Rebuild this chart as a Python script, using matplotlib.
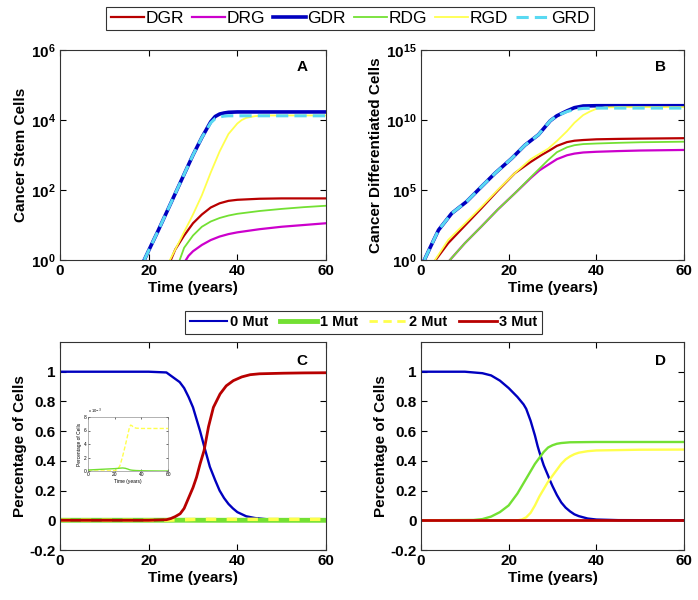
import numpy as np
import matplotlib
matplotlib.use("Agg")
import matplotlib.pyplot as plt
from matplotlib.lines import Line2D

plt.rcParams['font.family'] = ['Liberation Sans', 'DejaVu Sans']

# ---------------- Panel A: cancer stem cells (log10 values) ----------------
tA_GDR = [19, 20, 22, 24, 26, 28, 30, 32, 34, 35, 36, 37, 38, 40, 45, 50, 55, 60]
lA_GDR = [0, 0.27, 0.8, 1.35, 1.9, 2.45, 3.0, 3.5, 3.95, 4.1, 4.17, 4.2, 4.22, 4.23, 4.23, 4.23, 4.23, 4.23]
tA_GRD = tA_GDR
lA_GRD = [0, 0.27, 0.8, 1.35, 1.9, 2.45, 3.0, 3.5, 3.92, 4.04, 4.09, 4.11, 4.12, 4.12, 4.12, 4.12, 4.12, 4.12]
tA_RGD = [24.8, 26, 28, 30, 32, 34, 36, 38, 40, 41, 42, 44, 46, 50, 60]
lA_RGD = [0, 0.3, 0.8, 1.3, 1.85, 2.5, 3.1, 3.6, 3.9, 4.0, 4.06, 4.11, 4.13, 4.13, 4.13]
tA_DGR = [25, 26, 28, 30, 32, 34, 36, 38, 40, 45, 50, 60]
lA_DGR = [0, 0.3, 0.7, 1.05, 1.3, 1.5, 1.62, 1.69, 1.72, 1.75, 1.76, 1.76]
tA_RDG = [27, 28, 30, 32, 34, 36, 38, 40, 45, 50, 55, 60]
lA_RDG = [0, 0.35, 0.7, 0.95, 1.1, 1.2, 1.27, 1.32, 1.4, 1.46, 1.51, 1.55]
tA_DRG = [28.4, 29, 30, 32, 34, 36, 38, 40, 45, 50, 55, 60]
lA_DRG = [0, 0.12, 0.25, 0.43, 0.57, 0.67, 0.74, 0.79, 0.88, 0.95, 1.0, 1.05]

# ---------------- Panel B: cancer differentiated cells (log10 values) ----------------
tB_GDR = [0.76, 2, 4, 7, 10.4, 13.8, 16.9, 20.7, 23.7, 26.8, 29.5, 31, 33.3, 35, 37, 40, 50, 60]
lB_GDR = [0, 0.83, 2.14, 3.33, 4.17, 5.24, 6.2, 7.26, 8.2, 8.95, 9.95, 10.3, 10.65, 10.88, 11.0, 11.02, 11.02, 11.02]
tB_GRD = tB_GDR
lB_GRD = [0, 0.83, 2.14, 3.33, 4.17, 5.24, 6.2, 7.26, 8.2, 8.95, 9.95, 10.3, 10.6, 10.75, 10.83, 10.85, 10.85, 10.85]
tB_RGD = [3.2, 6.2, 10, 13.8, 17.5, 21.4, 25, 29, 31, 33.3, 35, 37, 38.5, 40, 42, 45, 50, 60]
lB_RGD = [0, 1.43, 2.6, 3.8, 5.0, 6.2, 7.2, 7.95, 8.5, 9.2, 9.8, 10.35, 10.6, 10.8, 10.9, 10.92, 10.92, 10.92]
tB_DGR = [3.35, 6.2, 10, 13.8, 17.5, 21.4, 25, 27.5, 29.5, 31, 33.3, 35, 37, 40, 45, 50, 60]
lB_DGR = [0, 1.2, 2.45, 3.7, 4.95, 6.2, 7.0, 7.5, 7.86, 8.15, 8.42, 8.52, 8.57, 8.62, 8.65, 8.67, 8.7]
tB_RDG = [6.6, 10, 13.8, 17.5, 21.4, 25, 29, 31, 33.3, 35, 37, 40, 45, 50, 60]
lB_RDG = [0, 1.2, 2.4, 3.6, 4.76, 5.9, 7.14, 7.7, 8.05, 8.2, 8.28, 8.32, 8.37, 8.41, 8.45]
tB_DRG = [6.6, 10, 13.8, 17.5, 21.4, 25, 27, 29.5, 31, 33.3, 35, 37, 40, 45, 50, 60]
lB_DRG = [0, 1.2, 2.4, 3.6, 4.76, 5.85, 6.4, 6.9, 7.2, 7.48, 7.6, 7.68, 7.73, 7.78, 7.82, 7.86]

# ---------------- Panel C: fraction of cells ----------------
tC_0 = [0, 10, 20, 24, 27, 28, 29, 30, 31, 31.6, 32.5, 33.8, 35, 36, 37, 38, 39, 40, 42, 44, 47, 50, 60]
yC_0 = [1, 1, 1, 0.995, 0.93, 0.89, 0.83, 0.76, 0.66, 0.6, 0.5, 0.36, 0.27, 0.2, 0.15, 0.11, 0.08, 0.055, 0.027, 0.015, 0.006, 0.002, 0]
tC_3 = [0, 20, 24, 25, 26, 27.1, 28, 29, 30, 30.8, 31.6, 32.5, 33.5, 34.6, 36.1, 37.5, 39.1, 41, 42.9, 45, 50.4, 55, 60]
yC_3 = [0, 0, 0.004, 0.012, 0.025, 0.044, 0.08, 0.15, 0.22, 0.29, 0.38, 0.47, 0.63, 0.76, 0.85, 0.905, 0.94, 0.965, 0.98, 0.986, 0.99, 0.992, 0.993]
# inset values (units of 1e-3)
tIn = [0, 5, 10, 15, 20, 22, 24, 26, 28, 30, 31, 32, 33, 34, 36, 40, 45, 50, 55, 60]
yIn_2 = [0, 0, 0, 0.02, 0.05, 0.2, 0.8, 2.2, 3.8, 5.5, 6.4, 6.8, 6.7, 6.5, 6.35, 6.3, 6.3, 6.3, 6.3, 6.3]
yIn_1 = [0.15, 0.2, 0.25, 0.3, 0.35, 0.38, 0.42, 0.45, 0.4, 0.28, 0.2, 0.15, 0.12, 0.1, 0.07, 0.04, 0.02, 0.01, 0.0, 0.0]

# ---------------- Panel D: fraction of cells ----------------
tD_0 = [0, 10, 14, 16, 18, 20, 22, 23.4, 24, 25, 26, 26.6, 27, 28, 29, 29.4, 30, 31, 32, 33, 34, 35, 36, 38, 40, 45, 60]
yD_0 = [1, 1, 0.99, 0.975, 0.94, 0.89, 0.83, 0.78, 0.75, 0.67, 0.57, 0.5, 0.46, 0.37, 0.3, 0.27, 0.23, 0.17, 0.12, 0.085, 0.06, 0.04, 0.028, 0.012, 0.005, 0.001, 0]
tD_1 = [0, 12, 14, 16, 18, 20, 21, 22, 23, 24, 25, 26, 27, 28, 29, 30, 31, 32, 34, 40, 60]
yD_1 = [0, 0.002, 0.008, 0.025, 0.055, 0.1, 0.14, 0.18, 0.23, 0.28, 0.33, 0.38, 0.42, 0.46, 0.49, 0.505, 0.515, 0.52, 0.525, 0.527, 0.527]
tD_2 = [0, 22, 23, 24, 25, 26, 27, 28, 29, 30, 31, 32, 33, 34, 35, 36, 38, 40, 50, 60]
yD_2 = [0, 0, 0.005, 0.02, 0.05, 0.1, 0.16, 0.21, 0.26, 0.3, 0.34, 0.38, 0.41, 0.43, 0.445, 0.455, 0.465, 0.47, 0.475, 0.476]
tD_3 = [0, 60]
yD_3 = [0, 0]

# ---------------- styles ----------------
c_DGR = (0.72, 0.0, 0.0)
c_DRG = (0.8, 0.0, 0.8)
c_GDR = (0.0, 0.0, 0.75)
c_RDG = (0.45, 0.88, 0.2)
c_RGD = (1.0, 1.0, 0.3)
c_GRD = (0.35, 0.85, 0.95)

c_0 = (0.0, 0.0, 0.75)
c_1 = (0.45, 0.88, 0.2)
c_2 = (1.0, 1.0, 0.3)
c_3 = (0.72, 0.0, 0.0)

W, H = 698, 600
fig = plt.figure(figsize=(W / 100, H / 100), dpi=100)


def pos(l, t, r, b):
    return [l / W, 1 - b / H, (r - l) / W, (b - t) / H]


def style(ax):
    ax.tick_params(direction='in', top=True, right=True, length=4, width=0.8,
                   labelsize=11, pad=3)
    for lab in ax.get_xticklabels() + ax.get_yticklabels():
        lab.set_fontweight('bold')
    for s in ax.spines.values():
        s.set_color('#333333')
        s.set_linewidth(0.8)
    ax.set_xlabel('Time (years)', fontsize=11, fontweight='bold', labelpad=2)


p = lambda l: 10.0 ** np.asarray(l)

# Panel A
axA = fig.add_axes(pos(60, 50, 326, 260))
axA.set_yscale('log')
hDGR, = axA.plot(tA_DGR, p(lA_DGR), color=c_DGR, lw=1.6, label='DGR')
hDRG, = axA.plot(tA_DRG, p(lA_DRG), color=c_DRG, lw=1.6, label='DRG')
hGDR, = axA.plot(tA_GDR, p(lA_GDR), color=c_GDR, lw=2.6, label='GDR')
hRDG, = axA.plot(tA_RDG, p(lA_RDG), color=c_RDG, lw=1.3, label='RDG')
hRGD, = axA.plot(tA_RGD, p(lA_RGD), color=c_RGD, lw=1.3, label='RGD')
hGRD, = axA.plot(tA_GRD, p(lA_GRD), color=c_GRD, lw=2.2, ls=(0, (4, 2)), label='GRD')
axA.set_xlim(0, 60)
axA.set_ylim(1, 1e6)
axA.set_xticks([0, 20, 40, 60])
axA.set_yticks([1, 1e2, 1e4, 1e6])
axA.minorticks_off()
axA.set_ylabel('Cancer Stem Cells', fontsize=11, fontweight='bold', labelpad=2)
axA.text(0.91, 0.92, 'A', transform=axA.transAxes, fontsize=11, fontweight='bold',
         ha='center', va='center')
style(axA)

# Panel B
axB = fig.add_axes(pos(421, 50, 684, 260))
axB.set_yscale('log')
axB.plot(tB_DGR, p(lB_DGR), color=c_DGR, lw=1.6)
axB.plot(tB_DRG, p(lB_DRG), color=c_DRG, lw=1.6)
axB.plot(tB_GDR, p(lB_GDR), color=c_GDR, lw=2.6)
axB.plot(tB_RDG, p(lB_RDG), color=c_RDG, lw=1.3)
axB.plot(tB_RGD, p(lB_RGD), color=c_RGD, lw=1.3)
axB.plot(tB_GRD, p(lB_GRD), color=c_GRD, lw=2.2, ls=(0, (4, 2)))
axB.set_xlim(0, 60)
axB.set_ylim(1, 1e15)
axB.set_xticks([0, 20, 40, 60])
axB.set_yticks([1, 1e5, 1e10, 1e15])
axB.minorticks_off()
axB.set_ylabel('Cancer Differentiated Cells', fontsize=11, fontweight='bold', labelpad=2)
axB.text(0.91, 0.92, 'B', transform=axB.transAxes, fontsize=11, fontweight='bold',
         ha='center', va='center')
style(axB)

# Panel C
yC_1 = np.asarray(yIn_1) * 1e-3
yC_2 = np.asarray(yIn_2) * 1e-3
axC = fig.add_axes(pos(60, 342, 326, 550))
axC.plot(tC_0, yC_0, color=c_0, lw=1.7)
axC.plot(tIn, yC_1, color=c_1, lw=3.5)
axC.plot(tIn, yC_2, color=c_2, lw=2.5, ls=(0, (3, 3)))
axC.plot(tC_3, yC_3, color=c_3, lw=2.0)
axC.set_xlim(0, 60)
axC.set_ylim(-0.2, 1.2)
axC.set_xticks([0, 20, 40, 60])
axC.set_yticks([-0.2, 0, 0.2, 0.4, 0.6, 0.8, 1])
axC.set_yticklabels(['-0.2', '0', '0.2', '0.4', '0.6', '0.8', '1'])
axC.set_ylabel('Percentage of Cells', fontsize=11, fontweight='bold', labelpad=2)
axC.text(0.91, 0.91, 'C', transform=axC.transAxes, fontsize=11, fontweight='bold',
         ha='center', va='center')
style(axC)

# Inset
axI = fig.add_axes(pos(88, 417, 168, 471))
axI.plot(tIn, yIn_2, color=c_2, lw=1, ls=(0, (3, 1.5)))
axI.plot(tIn, yIn_1, color=c_1, lw=1)
axI.set_xlim(0, 60)
axI.set_ylim(0, 8)
axI.set_xticks([0, 20, 40, 60])
axI.set_yticks([0, 2, 4, 6, 8])
axI.tick_params(direction='in', top=True, right=True, length=1.5, width=0.4,
                labelsize=3.5, pad=1)
for s in axI.spines.values():
    s.set_color('#777777')
    s.set_linewidth(0.4)
axI.set_xlabel('Time (years)', fontsize=3.5, labelpad=1)
axI.set_ylabel('Percentage of Cells', fontsize=3.5, labelpad=1)
axI.text(0.0, 1.01, r'x 10$^{-3}$', transform=axI.transAxes, fontsize=3, va='bottom')

# Panel D
axD = fig.add_axes(pos(421, 342, 684, 550))
axD.plot(tD_0, yD_0, color=c_0, lw=1.7)
axD.plot(tD_1, yD_1, color=c_1, lw=1.7)
axD.plot(tD_2, yD_2, color=c_2, lw=1.7)
axD.plot(tD_3, yD_3, color=c_3, lw=2.0)
axD.set_xlim(0, 60)
axD.set_ylim(-0.2, 1.2)
axD.set_xticks([0, 20, 40, 60])
axD.set_yticks([-0.2, 0, 0.2, 0.4, 0.6, 0.8, 1])
axD.set_yticklabels(['-0.2', '0', '0.2', '0.4', '0.6', '0.8', '1'])
axD.set_ylabel('Percentage of Cells', fontsize=11, fontweight='bold', labelpad=2)
axD.text(0.91, 0.91, 'D', transform=axD.transAxes, fontsize=11, fontweight='bold',
         ha='center', va='center')
style(axD)

# Legends
leg1 = fig.legend([hDGR, hDRG, hGDR, hRDG, hRGD, hGRD],
                  ['DGR', 'DRG', 'GDR', 'RDG', 'RGD', 'GRD'],
                  loc='center', bbox_to_anchor=(350 / W, 1 - 18.5 / H), ncol=6,
                  frameon=True, fancybox=False, edgecolor='black', fontsize=12.5,
                  handlelength=1.9, handletextpad=0.1, columnspacing=0.45,
                  borderpad=0.25, borderaxespad=0)
leg1.get_frame().set_linewidth(0.8)
lh = [Line2D([], [], color=c_0, lw=1.5), Line2D([], [], color=c_1, lw=3.5),
      Line2D([], [], color=c_2, lw=2, ls=(0, (3, 2))), Line2D([], [], color=c_3, lw=2)]
leg2 = fig.legend(lh, ['0 Mut', '1 Mut', '2 Mut', '3 Mut'],
                  loc='center', bbox_to_anchor=(363.5 / W, 1 - 322.5 / H), ncol=4,
                  frameon=True, fancybox=False, edgecolor='black',
                  prop=dict(size=10.5, weight='bold'),
                  handlelength=2.6, handletextpad=0.15, columnspacing=0.8,
                  borderpad=0.3, borderaxespad=0)
leg2.get_frame().set_linewidth(0.8)

fig.savefig('out.png', dpi=100)
